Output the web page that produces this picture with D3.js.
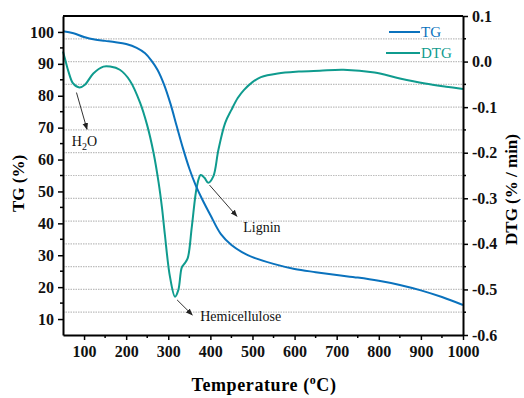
<!DOCTYPE html>
<html><head><meta charset="utf-8">
<script src="https://cdn.jsdelivr.net/npm/d3@7/dist/d3.min.js"></script>
<style>
html,body{margin:0;padding:0;background:#fff;}
svg{display:block;}
text{font-family:"Liberation Serif","Times New Roman",serif;}
</style></head>
<body>
<svg id="chart" width="524" height="398"></svg>
<script>
// ---- data ----
const tgTemp = [50, 75, 100, 125, 150, 175, 200, 225, 245, 260, 275, 290, 305, 320, 335, 350, 365, 380, 400, 425, 450, 475, 500, 550, 600, 650, 700, 750, 800, 850, 900, 950, 1000];
const tgValues = [100.2, 99.6, 98.4, 97.6, 97.2, 96.8, 96.2, 95.0, 93.3, 91.0, 88.0, 83.5, 77.6, 70.5, 63.5, 57.2, 52.0, 47.7, 42.6, 36.6, 33.2, 31.0, 29.4, 27.3, 25.7, 24.7, 23.8, 23.0, 22.0, 20.7, 19.0, 16.9, 14.4];

const dtgTemp = [50, 55, 63, 74, 89, 102, 122, 146, 162, 185, 209, 233, 250, 265, 277, 285, 292, 304, 316, 324, 332, 338, 346, 356, 368, 377, 386, 395, 407, 419, 435, 450, 465, 480, 500, 520, 560, 610, 660, 716, 790, 850, 910, 960, 1000];
const dtgValues = [0.022, 0.005, -0.022, -0.048, -0.057, -0.051, -0.026, -0.011, -0.011, -0.018, -0.042, -0.09, -0.140, -0.200, -0.265, -0.32, -0.38, -0.472, -0.516, -0.501, -0.452, -0.444, -0.432, -0.362, -0.274, -0.249, -0.255, -0.266, -0.252, -0.194, -0.135, -0.106, -0.08, -0.062, -0.045, -0.034, -0.026, -0.022, -0.020, -0.018, -0.024, -0.037, -0.048, -0.055, -0.060];

const xTicks = [100, 200, 300, 400, 500, 600, 700, 800, 900, 1000];
const tgTicks = [10, 20, 30, 40, 50, 60, 70, 80, 90, 100];
const dtgTicks = [0.1, 0.0, -0.1, -0.2, -0.3, -0.4, -0.5, -0.6];
const gridValues = [0.05, 0, -0.05, -0.1, -0.15, -0.2, -0.25, -0.3, -0.35, -0.4, -0.45, -0.5, -0.55];

const seriesNames = ["TG", "DTG"];
const annotations = [
  {label: "H2O", from: [82, 81], to: [107, 69.5], text: [71, 64.3]},
  {label: "Lignin", from: [398, 52], to: [463, 42.2], text: [478, 37.3]},
  {label: "Hemicellulose", from: [321, 16], to: [357, 11.3], text: [376, 9.4]}
];

// ---- layout ----
const L = 63, R = 463, T = 16, B = 335;
const blue = "#0a72bd", teal = "#0f9b8e";
const svg = d3.select("#chart");

const x = d3.scaleLinear().domain([50, 1000]).range([L, R]);
const yL = d3.scaleLinear().domain([5, 105]).range([B, T]);
const yR = d3.scaleLinear().domain([-0.6, 0.1]).range([B, T]);

// grid
svg.append("g").selectAll("line").data(gridValues).join("line")
  .attr("x1", L).attr("x2", R)
  .attr("y1", d => yR(d)).attr("y2", d => yR(d))
  .attr("stroke", "#bdbdbd").attr("stroke-width", 1.2).attr("stroke-dasharray", "1.5,1");

// lines
const tgData = tgTemp.map((t, i) => [t, tgValues[i]]);
const dtgData = dtgTemp.map((t, i) => [t, dtgValues[i]]);
svg.append("path").datum(dtgData)
  .attr("fill", "none").attr("stroke", teal).attr("stroke-width", 2)
  .attr("d", d3.line().x(d => x(d[0])).y(d => yR(d[1])).curve(d3.curveCatmullRom.alpha(0.5)));
svg.append("path").datum(tgData)
  .attr("fill", "none").attr("stroke", blue).attr("stroke-width", 2)
  .attr("d", d3.line().x(d => x(d[0])).y(d => yL(d[1])).curve(d3.curveCatmullRom.alpha(0.5)));

// axes
function styleAxis(g) {
  g.selectAll("path").attr("stroke", "#000").attr("stroke-width", 2);
  g.selectAll("line").attr("stroke", "#000").attr("stroke-width", 1.5);
  g.selectAll("text").attr("font-family", "Liberation Serif, serif").attr("font-size", 16).attr("font-weight", "bold").attr("fill", "#111");
}
const xMinor = d3.range(150, 1000, 100);
const gx = svg.append("g").attr("transform", `translate(0,${B})`);
gx.call(d3.axisBottom(x).tickValues(xTicks).tickSize(5).tickSizeOuter(0).tickPadding(6).tickFormat(d3.format("d")));
styleAxis(gx);
gx.selectAll(".minor").data(xMinor).join("line").attr("class", "minor")
  .attr("x1", d => x(d)).attr("x2", d => x(d)).attr("y1", 0).attr("y2", 3).attr("stroke", "#000").attr("stroke-width", 1.5);

const gl = svg.append("g").attr("transform", `translate(${L},0)`);
gl.call(d3.axisLeft(yL).tickValues(tgTicks).tickSize(5).tickSizeOuter(0).tickPadding(4));
styleAxis(gl);
gl.selectAll(".minor").data(d3.range(15, 105, 10)).join("line").attr("class", "minor")
  .attr("x1", 0).attr("x2", -3).attr("y1", d => yL(d)).attr("y2", d => yL(d)).attr("stroke", "#000").attr("stroke-width", 1.5);

const gr = svg.append("g").attr("transform", `translate(${R},0)`);
gr.call(d3.axisRight(yR).tickValues(dtgTicks).tickSize(5).tickSizeOuter(0).tickPadding(4).tickFormat(d3.format(".1f")));
styleAxis(gr);
gr.selectAll("text").text(d => d3.format(".1f")(d).replace("−", "-"));
gr.selectAll(".minor").data(gridValues.filter(v => Math.abs(Math.round(v*10) - v*10) > 0.01)).join("line").attr("class", "minor")
  .attr("x1", 0).attr("x2", 3).attr("y1", d => yR(d)).attr("y2", d => yR(d)).attr("stroke", "#000").attr("stroke-width", 1.5);

// top frame
svg.append("line").attr("x1", L).attr("x2", R).attr("y1", T).attr("y2", T).attr("stroke", "#000").attr("stroke-width", 2);

// axis titles
svg.append("text").attr("transform", `translate(24,${(T + B) / 2 + 8}) rotate(-90)`)
  .attr("text-anchor", "middle").attr("font-size", 17).attr("font-weight", "bold").text("TG (%)");
svg.append("text").attr("transform", `translate(517,${(T + B) / 2 + 14}) rotate(-90)`)
  .attr("text-anchor", "middle").attr("font-size", 17).attr("font-weight", "bold").text("DTG (% / min)");
const xt = svg.append("text").attr("x", (L + R) / 2 + 1).attr("y", 391)
  .attr("text-anchor", "middle").attr("font-size", 18).attr("font-weight", "bold").attr("letter-spacing", 0.6);
xt.append("tspan").text("Temperature (");
xt.append("tspan").attr("font-size", 12).attr("dy", -7).text("o");
xt.append("tspan").attr("dy", 7).text("C)");

// legend
const legend = svg.append("g");
seriesNames.forEach((name, i) => {
  const col = i === 0 ? blue : teal;
  const yy = 32 + i * 21;
  legend.append("line").attr("x1", i === 0 ? 389 : 386).attr("x2", 420).attr("y1", yy).attr("y2", yy)
    .attr("stroke", col).attr("stroke-width", 2);
  legend.append("text").attr("x", 421).attr("y", yy + 5).attr("font-size", 15).attr("fill", col).text(name);
});

// annotations
svg.append("defs").append("marker").attr("id", "arr").attr("viewBox", "0 0 10 10")
  .attr("refX", 9).attr("refY", 5).attr("markerWidth", 7).attr("markerHeight", 7).attr("orient", "auto")
  .append("path").attr("d", "M0,1 L10,5 L0,9 Z").attr("fill", "#222");
annotations.forEach(a => {
  svg.append("line")
    .attr("x1", x(a.from[0])).attr("y1", yL(a.from[1]))
    .attr("x2", x(a.to[0])).attr("y2", yL(a.to[1]))
    .attr("stroke", "#333").attr("stroke-width", 1).attr("marker-end", "url(#arr)");
  const t = svg.append("text").attr("x", x(a.text[0])).attr("y", yL(a.text[1]))
    .attr("font-size", 14).attr("fill", "#111");
  if (a.label === "H2O") {
    t.append("tspan").text("H");
    t.append("tspan").attr("font-size", 10).attr("dy", 4).text("2");
    t.append("tspan").attr("dy", -4).text("O");
  } else {
    t.text(a.label);
  }
});
</script>
</body></html>
